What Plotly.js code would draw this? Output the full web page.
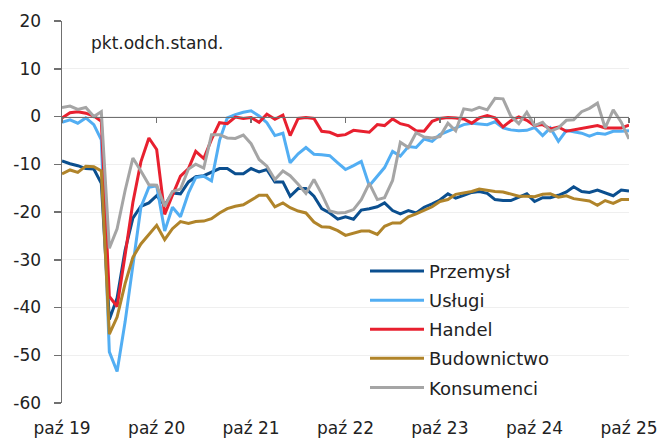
<!DOCTYPE html>
<html>
<head>
<meta charset="utf-8">
<script src="https://cdn.plot.ly/plotly-3.0.1.min.js"></script>
<style>html,body{margin:0;padding:0;background:#fff;}#chart{width:661px;height:439px;}</style>
</head>
<body>
<div id="chart"></div>
<script>
// Monthly data, Oct 2019 .. Oct 2025 (73 months)
const startYear = 2019, startMonth = 10, nMonths = 73;
const months = [];
for (let k = 0; k < nMonths; k++) {
  const m0 = startMonth - 1 + k;
  const y = startYear + Math.floor(m0 / 12);
  const m = (m0 % 12) + 1;
  months.push(y + '-' + String(m).padStart(2, '0') + '-01');
}

const tickDates = ['2019-10-01','2020-10-01','2021-10-01','2022-10-01','2023-10-01','2024-10-01','2025-10-01'];
const tickLabels = ['paź 19','paź 20','paź 21','paź 22','paź 23','paź 24','paź 25'];
const yTickVals = [20, 10, 0, -10, -20, -30, -40, -50, -60];
const yTickLabels = ['20', '10', '0', '-10', '-20', '-30', '-40', '-50', '-60'];

const przemysl = [-9.3,-9.9,-10.3,-10.9,-11.0,-14.0,-42.5,-38.0,-28.0,-21.3,-18.8,-18.1,-16.6,-18.6,-16.0,-16.2,-13.7,-12.6,-12.4,-11.6,
  -10.9,-10.9,-12.0,-12.0,-10.9,-11.6,-11.1,-13.7,-13.7,-16.7,-15.1,-15.1,-16.7,-19.3,-20.2,-21.5,-21.0,-21.5,-19.6,-19.3,
  -18.9,-18.1,-19.7,-20.4,-19.7,-20.2,-19.0,-18.3,-17.5,-16.2,-17.1,-16.5,-15.9,-15.7,-16.1,-17.4,-17.6,-17.6,-16.9,-16.2,
  -17.8,-17.0,-17.0,-16.5,-15.8,-14.7,-15.7,-15.9,-15.4,-16.0,-16.6,-15.4,-15.6];
const uslugi = [-1.2,-0.7,-1.4,-0.3,-1.7,-4.9,-49.3,-53.4,-43.0,-31.0,-19.0,-14.8,-14.5,-24.0,-19.0,-21.0,-16.0,-12.8,-12.5,-13.5,
  -5.0,-0.3,0.4,0.9,1.2,0.1,-1.3,-4.0,-3.5,-9.7,-7.8,-6.5,-7.9,-8.0,-8.2,-9.7,-11.1,-10.3,-9.4,-14.5,
  -12.5,-10.7,-7.3,-8.3,-6.3,-6.5,-4.7,-5.2,-3.8,-3.1,-2.4,-1.7,-1.4,-1.6,-1.7,-1.1,-2.4,-2.8,-3.0,-2.9,
  -2.3,-4.0,-2.4,-5.2,-2.9,-3.2,-3.5,-4.1,-3.5,-3.7,-3.1,-3.1,-3.0];
const handel = [-0.3,0.8,1.0,0.7,0.1,-1.0,-37.7,-39.8,-29.0,-18.0,-9.5,-4.5,-6.9,-20.5,-16.5,-12.5,-10.9,-7.3,-8.8,-4.8,
  -1.3,-1.5,-0.1,-0.4,-0.2,-1.2,0.5,-0.6,0.3,-4.0,-0.4,-0.2,-0.4,-3.1,-3.3,-4.0,-3.8,-2.9,-3.1,-3.3,
  -1.7,-1.9,-0.5,-1.5,-1.9,-3.0,-3.1,-1.0,-0.4,-0.2,-0.3,-0.5,-1.4,-0.3,0.2,-0.3,-2.2,-0.9,-0.1,-0.8,
  -1.9,-1.7,-2.6,-2.2,-3.1,-2.8,-2.4,-2.1,-1.9,-2.4,-2.4,-2.4,-1.8];
const budownictwo = [-12.0,-11.2,-11.7,-10.4,-10.5,-11.4,-45.6,-42.0,-35.0,-29.5,-26.7,-24.8,-22.8,-25.8,-23.5,-22.0,-22.4,-22.0,-21.9,-21.4,
  -20.2,-19.3,-18.8,-18.5,-17.5,-16.5,-16.5,-18.9,-18.1,-19.1,-19.8,-20.2,-22.1,-23.1,-23.2,-23.9,-24.9,-24.4,-24.0,-24.0,
  -24.7,-23.0,-22.3,-22.3,-21.0,-20.4,-19.7,-18.9,-17.8,-17.4,-16.3,-16.0,-15.7,-15.2,-15.5,-15.7,-15.8,-16.2,-16.7,-16.7,
  -16.8,-16.3,-16.2,-16.9,-16.6,-17.2,-17.4,-17.7,-18.6,-17.6,-18.2,-17.4,-17.4];
const konsumenci = [1.9,2.2,1.5,1.9,0.0,1.0,-27.6,-23.5,-15.5,-8.7,-11.4,-14.3,-14.4,-18.8,-15.7,-15.2,-11.0,-10.0,-10.8,-3.8,
  -3.8,-4.5,-4.6,-3.9,-5.7,-9.0,-10.4,-13.2,-11.4,-12.4,-14.2,-16.1,-13.2,-16.2,-19.8,-20.2,-20.1,-19.5,-17.4,-14.0,
  -17.4,-17.0,-13.4,-5.4,-6.5,-3.4,-4.3,-4.5,-4.2,-1.4,-3.0,1.6,1.3,1.9,1.4,3.8,3.7,0.1,-1.5,0.9,
  -1.9,-1.2,-3.1,-2.4,-0.8,-0.7,1.0,1.7,2.8,-2.4,1.4,-1.2,-4.7];

const seriesNames = ['Przemysł','Usługi','Handel','Budownictwo','Konsumenci'];
const seriesData = [przemysl, uslugi, handel, budownictwo, konsumenci];
const seriesColors = ['#0b4f8f','#52aef3','#e8202f','#b0842a','#a5a5a5'];

const FONT = '"DejaVu Sans", "Noto Sans", sans-serif';

const traces = seriesNames.map((name, i) => ({
  type: 'scatter', mode: 'lines', name: name, legendgroup: 'g' + i,
  x: months, y: seriesData[i],
  line: {color: seriesColors[i], width: 3},
  hoverinfo: 'skip'
}));
// helper trace so that the zero-line axis (xaxis2) is drawn
traces.push({type: 'scatter', mode: 'lines', x: [], y: [], xaxis: 'x2', showlegend: false, hoverinfo: 'skip'});

const layout = {
  width: 661, height: 439,
  margin: {l: 62, r: 32, t: 21, b: 36, pad: 0},
  paper_bgcolor: '#ffffff', plot_bgcolor: '#ffffff',
  font: {family: FONT, size: 17, color: '#222222'},
  showlegend: true,
  legend: {
    x: 0.5344, xanchor: 'left', y: 0.393, yanchor: 'top',
    bgcolor: 'rgba(0,0,0,0)', borderwidth: 0,
    font: {family: FONT, size: 18, color: '#222222'},
    itemwidth: 54, tracegroupgap: 2.7, traceorder: 'grouped'
  },
  xaxis: {
    type: 'date', range: ['2019-10-01', '2025-10-01'],
    tickmode: 'array', tickvals: tickDates, ticktext: tickLabels,
    showline: false, showgrid: false, zeroline: false,
    ticks: 'outside', ticklen: 10, tickcolor: 'rgba(0,0,0,0)',
    tickfont: {family: FONT, size: 17, color: '#222222'}
  },
  xaxis2: {
    type: 'date', range: ['2019-10-01', '2025-10-01'],
    overlaying: 'x', anchor: 'free', position: 0.75, side: 'bottom',
    tickmode: 'array', tickvals: tickDates,
    showticklabels: false, showgrid: false, zeroline: false,
    showline: true, linecolor: '#707070', linewidth: 1.5,
    ticks: 'outside', ticklen: 5, tickwidth: 1.5, tickcolor: '#707070'
  },
  yaxis: {
    range: [-60, 20],
    tickmode: 'array', tickvals: yTickVals, ticktext: yTickLabels,
    showline: true, linecolor: '#707070', linewidth: 1.5,
    ticks: 'outside', ticklen: 7, tickwidth: 1.5, tickcolor: '#707070',
    showgrid: true, gridcolor: '#efefef', gridwidth: 1,
    zeroline: false,
    tickfont: {family: FONT, size: 17, color: '#222222'},
    ticklabelstandoff: 9
  },
  annotations: [{
    text: 'pkt.odch.stand.', xref: 'paper', yref: 'paper',
    x: 0.047, y: 0.942, xanchor: 'left', yanchor: 'middle',
    showarrow: false, font: {family: FONT, size: 17, color: '#222222'}
  }]
};

Plotly.newPlot('chart', traces, layout, {displayModeBar: false, staticPlot: true});
</script>
</body>
</html>
